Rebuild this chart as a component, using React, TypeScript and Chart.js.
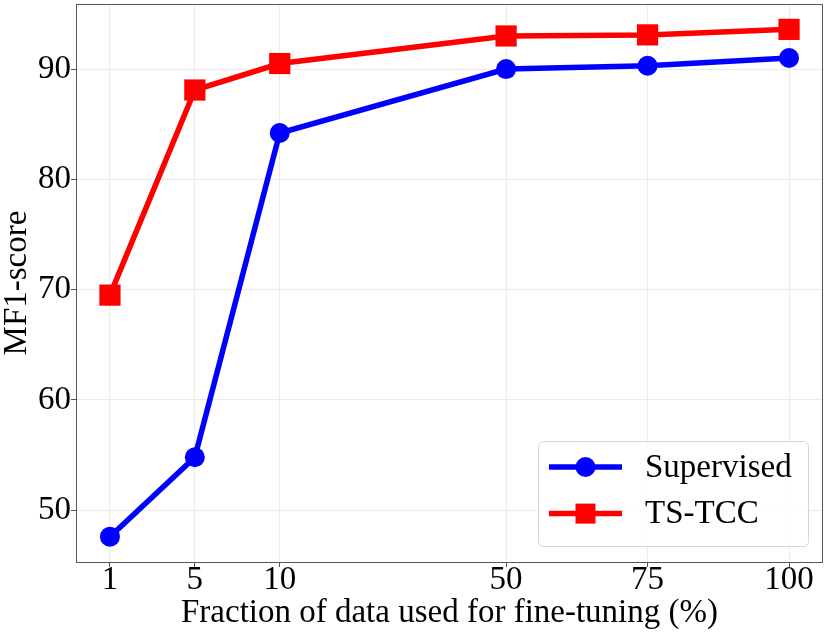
import { useEffect, useRef } from "react";
import { Chart, registerables } from "chart.js";

Chart.register(...registerables);

const fractions = ["1", "5", "10", "50", "75", "100"];
// spot of each fraction on the x-axis (1 and 5 are spread out, not to scale)
const fractionPositions = [-20, -5, 10, 50, 75, 100];
const supervised = [47.6, 54.8, 84.2, 90.0, 90.3, 91.0];
const tsTcc = [69.5, 88.1, 90.5, 93.0, 93.1, 93.6];
const yTicks = [50, 60, 70, 80, 90];

const FONT = "'Liberation Serif', 'Times New Roman', serif";
const BLUE = "#0000ff";
const RED = "#ff0000";

// box around the plot plus a matplotlib-like legend (line through marker)
const framePlugin = {
  id: "frame",
  afterDraw(chart: any) {
    const { ctx, chartArea: a } = chart;
    ctx.save();
    ctx.strokeStyle = "#555555";
    ctx.lineWidth = 1;
    ctx.strokeRect(a.left + 0.5, a.top + 0.5, a.right - a.left - 1, a.bottom - a.top);

    const w = 270;
    const h = 105;
    const x0 = a.right - 15 - w;
    const y0 = a.bottom - 16 - h;
    ctx.beginPath();
    ctx.roundRect(x0 + 0.5, y0 + 0.5, w, h, 5);
    ctx.fillStyle = "rgba(255,255,255,0.85)";
    ctx.fill();
    ctx.strokeStyle = "#d6d6d6";
    ctx.stroke();

    chart.data.datasets.forEach((ds: any, i: number) => {
      const cy = y0 + 26 + i * 46.6;
      const lx = x0 + 11;
      ctx.strokeStyle = ds.borderColor;
      ctx.lineWidth = 5.5;
      ctx.beginPath();
      ctx.moveTo(lx, cy);
      ctx.lineTo(lx + 73, cy);
      ctx.stroke();
      ctx.fillStyle = ds.borderColor;
      const mx = lx + 36.5;
      if (ds.pointStyle === "rect") {
        ctx.fillRect(mx - 10, cy - 10, 20, 20);
      } else {
        ctx.beginPath();
        ctx.arc(mx, cy, 10, 0, Math.PI * 2);
        ctx.fill();
      }
      ctx.fillStyle = "#000000";
      ctx.font = `33px ${FONT}`;
      ctx.textBaseline = "middle";
      ctx.textAlign = "left";
      ctx.fillText(ds.label, x0 + 107, cy + 1);
    });
    ctx.restore();
  },
};

export default function App() {
  const canvasRef = useRef<HTMLCanvasElement>(null);

  useEffect(() => {
    document.body.style.margin = "0";
    if (!canvasRef.current) return;

    const chart = new Chart(canvasRef.current, {
      type: "line",
      data: {
        datasets: [
          {
            label: "Supervised",
            data: supervised.map((v, i) => ({ x: fractionPositions[i], y: v })),
            borderColor: BLUE,
            backgroundColor: BLUE,
            borderWidth: 5.5,
            pointStyle: "circle",
            pointRadius: 10,
            pointBorderWidth: 0,
            pointBackgroundColor: BLUE,
          },
          {
            label: "TS-TCC",
            data: tsTcc.map((v, i) => ({ x: fractionPositions[i], y: v })),
            borderColor: RED,
            backgroundColor: RED,
            borderWidth: 5.5,
            pointStyle: "rect",
            pointRadius: 15,
            pointBorderWidth: 0,
            pointBackgroundColor: RED,
          },
        ],
      },
      options: {
        responsive: false,
        animation: false,
        events: [],
        layout: { autoPadding: false, padding: { top: 4, right: 7, left: 0, bottom: 0 } },
        plugins: {
          legend: { display: false },
          tooltip: { enabled: false },
        },
        scales: {
          x: {
            type: "linear",
            min: -26,
            max: 106,
            afterBuildTicks: (s: any) => {
              s.ticks = fractionPositions.map((v) => ({ value: v }));
            },
            afterFit: (s: any) => {
              s.height = 74;
              s.paddingLeft = 0;
              s.paddingRight = 0;
            },
            border: { display: false },
            grid: { color: "#ebebeb", tickColor: "#555555", tickLength: 5 },
            ticks: {
              autoSkip: false,
              maxRotation: 0,
              padding: 0,
              color: "#000000",
              font: { family: FONT, size: 33, lineHeight: 0.8 },
              callback: (_v: any, i: number) => fractions[i],
            },
            title: {
              display: true,
              text: "Fraction of data used for fine-tuning (%)",
              color: "#000000",
              font: { family: FONT, size: 33, lineHeight: 1 },
              padding: { top: 0, bottom: 6 },
            },
          },
          y: {
            min: 45.3,
            max: 95.9,
            afterBuildTicks: (s: any) => {
              s.ticks = yTicks.map((v) => ({ value: v }));
            },
            afterFit: (s: any) => {
              s.width = 76;
              s.paddingTop = 0;
              s.paddingBottom = 0;
            },
            border: { display: false },
            grid: { color: "#ebebeb", tickColor: "#555555", tickLength: 5 },
            ticks: {
              padding: 0,
              color: "#000000",
              font: { family: FONT, size: 33, lineHeight: 1 },
            },
            title: {
              display: true,
              text: "MF1-score",
              color: "#000000",
              font: { family: FONT, size: 33, lineHeight: 1 },
              padding: { top: 1, bottom: 0 },
            },
          },
        },
      },
      plugins: [framePlugin],
    });

    return () => chart.destroy();
  }, []);

  return <canvas ref={canvasRef} width={830} height={636} />;
}
